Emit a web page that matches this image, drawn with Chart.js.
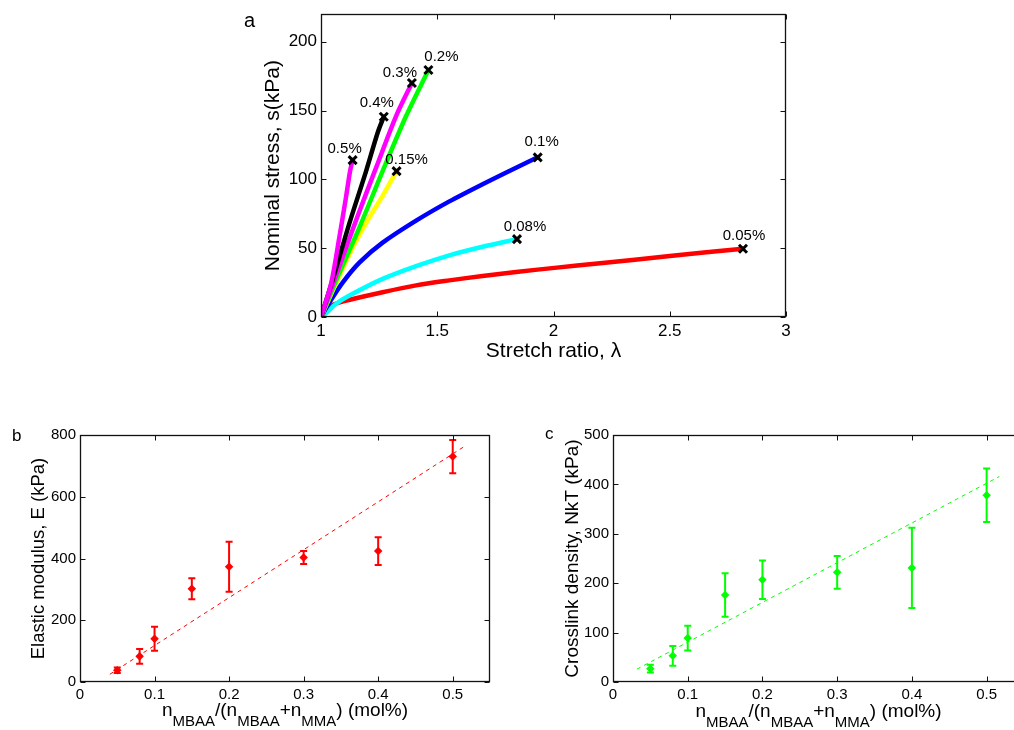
<!DOCTYPE html>
<html>
<head>
<meta charset="utf-8">
<script src="https://cdn.jsdelivr.net/npm/chart.js@4/dist/chart.umd.min.js"></script>
<style>
  html, body { margin: 0; padding: 0; background: #fff; overflow: hidden; width: 1014px; height: 730px; }
  canvas { position: absolute; }
</style>
</head>
<body>
<canvas id="chartA" width="560" height="370" style="left:240px;top:0px"></canvas>
<canvas id="chartB" width="500" height="310" style="left:0px;top:420px"></canvas>
<canvas id="chartC" width="530" height="310" style="left:510px;top:420px"></canvas>
<script>
// ---- panel a: stress-stretch curves, one pair of arrays per crosslinker content ----
const curveNames = ['0.5%', '0.4%', '0.3%', '0.2%', '0.15%', '0.1%', '0.08%', '0.05%'];
const lam05  = [1, 1.043, 1.079, 1.1075, 1.125, 1.136];
const s05    = [0, 24, 58, 87, 106, 114];
const lam04  = [1, 1.05, 1.122, 1.194, 1.244, 1.27];
const s04    = [0, 27, 68, 106, 134, 145.5];
const lam03  = [1, 1.0645, 1.15, 1.237, 1.323, 1.391];
const s03    = [0, 30, 70, 108.5, 146, 170];
const lam02  = [1, 1.079, 1.165, 1.265, 1.366, 1.462];
const s02    = [0, 32, 65, 106, 146, 179.5];
const lam015 = [1, 1.05, 1.129, 1.2, 1.265, 1.325];
const s015   = [0, 19, 48, 70, 88, 106];
const lam01  = [1, 1.036, 1.093, 1.165, 1.265, 1.409, 1.552, 1.695, 1.839, 1.932];
const s01    = [0, 10.5, 25, 39.5, 54, 70, 84, 96.5, 108.5, 116];
const lam008 = [1, 1.03, 1.065, 1.122, 1.265, 1.409, 1.552, 1.695, 1.843];
const s008   = [0, 4, 9.6, 15.6, 27.7, 37, 44.8, 51, 56.6];
const lam005 = [1, 1.03, 1.1, 1.265, 1.409, 1.552, 1.695, 1.839, 2.004, 2.2, 2.5, 2.815];
const s005   = [0, 7, 11.5, 18, 23, 26.6, 29.8, 32.7, 35.7, 39, 44.3, 49.6];
const stretchTicks = [1, 1.5, 2, 2.5, 3];
const stressTicks = [0, 50, 100, 150, 200];

// ---- panels b and c ----
const molFrac = [0.05, 0.08, 0.1, 0.15, 0.2, 0.3, 0.4, 0.5];
const modulusE = [38, 83, 140, 302, 373, 403, 424, 730];
const modulusErr = [9, 24, 39, 34, 81, 21, 45, 54];
const fitEx = [0.04, 0.515];
const fitEy = [25, 762];
const densityN = [27, 53, 89, 176, 207, 222, 231, 378];
const densityErr = [8, 20, 25, 44, 39, 33, 81, 54];
const fitNx = [0.032, 0.517];
const fitNy = [26, 416];
const fracTicks = [0, 0.1, 0.2, 0.3, 0.4, 0.5];
const modulusTicks = [0, 200, 400, 600, 800];
const densityTicks = [0, 100, 200, 300, 400, 500];

const family = "'Liberation Sans', Arial, Helvetica, sans-serif";
Chart.defaults.font.family = family;
Chart.defaults.color = '#000';
Chart.defaults.animation = false;
Chart.defaults.plugins.legend.display = false;
Chart.defaults.plugins.tooltip.enabled = false;

function pts(xs, ys) {
  return xs.map((v, i) => ({ x: v, y: ys[i] }));
}

function axis(tickVals, min, max, fontSize, fixed, isX) {
  return {
    type: 'linear', min: min, max: max,
    grid: { display: false, drawTicks: false },
    border: { display: false },
    ticks: {
      font: { size: fontSize }, color: '#000', padding: 4,
      autoSkip: false, maxRotation: 0,
      callback: v => String(+v.toFixed(2))
    },
    afterBuildTicks: s => { s.ticks = tickVals.map(v => ({ value: v })); },
    afterFit: s => { if (isX) s.height = fixed; else s.width = fixed; }
  };
}

// box, inward ticks, panel letter and axis titles (matlab style)
const frame = {
  id: 'frame',
  afterDraw(chart, args, o) {
    const { ctx, chartArea: a, scales } = chart;
    const L = Math.round(a.left) + 0.5, R = Math.round(a.right) - 0.5;
    const T = Math.round(a.top) + 0.5, B = Math.round(a.bottom) - 0.5;
    ctx.save();
    ctx.strokeStyle = '#111';
    ctx.lineWidth = 1;
    ctx.beginPath();
    scales.x.ticks.forEach(t => {
      const px = Math.round(scales.x.getPixelForValue(t.value)) + 0.5;
      ctx.moveTo(px, B); ctx.lineTo(px, B - 5);
      ctx.moveTo(px, T); ctx.lineTo(px, T + 5);
    });
    scales.y.ticks.forEach(t => {
      const py = Math.round(scales.y.getPixelForValue(t.value)) + 0.5;
      ctx.moveTo(L, py); ctx.lineTo(L + 5, py);
      ctx.moveTo(R, py); ctx.lineTo(R - 5, py);
    });
    ctx.stroke();
    ctx.lineWidth = 1.3;
    ctx.strokeRect(L, T, R - L, B - T);

    ctx.fillStyle = '#000';
    ctx.font = o.letterSize + 'px ' + family;
    ctx.textAlign = 'left';
    ctx.textBaseline = 'alphabetic';
    ctx.fillText(o.letter, o.letterPos[0], o.letterPos[1]);

    ctx.save();
    ctx.translate(a.left - o.yGap, (a.top + a.bottom) / 2);
    ctx.rotate(-Math.PI / 2);
    ctx.font = o.ySize + 'px ' + family;
    ctx.textAlign = 'center';
    ctx.textBaseline = 'middle';
    ctx.fillText(o.yTitle, 0, 0);
    ctx.restore();

    const cx = (a.left + a.right) / 2;
    if (typeof o.xTitle === 'string') {
      ctx.font = o.xSize + 'px ' + family;
      ctx.textAlign = 'center';
      ctx.textBaseline = 'middle';
      ctx.fillText(o.xTitle, cx, a.bottom + o.xGap);
    } else {
      ctx.textAlign = 'left';
      ctx.textBaseline = 'alphabetic';
      let w = 0;
      o.xTitle.forEach(p => {
        ctx.font = (p[1] ? o.subSize : o.xSize) + 'px ' + family;
        w += ctx.measureText(p[0]).width;
      });
      let x = cx - w / 2;
      o.xTitle.forEach(p => {
        ctx.font = (p[1] ? o.subSize : o.xSize) + 'px ' + family;
        ctx.fillText(p[0], x, a.bottom + o.xGap + (p[1] ? 10 : 0));
        x += ctx.measureText(p[0]).width;
      });
    }
    ctx.restore();
  }
};

// black x at the break point of every curve, with its label
const endMarks = {
  id: 'endMarks',
  afterDatasetsDraw(chart, args, o) {
    const ctx = chart.ctx;
    ctx.save();
    chart.data.datasets.forEach((ds, i) => {
      const els = chart.getDatasetMeta(i).data;
      const p = els[els.length - 1];
      ctx.strokeStyle = '#000';
      ctx.lineWidth = 3;
      ctx.beginPath();
      ctx.moveTo(p.x - 4, p.y - 4); ctx.lineTo(p.x + 4, p.y + 4);
      ctx.moveTo(p.x + 4, p.y - 4); ctx.lineTo(p.x - 4, p.y + 4);
      ctx.stroke();
      ctx.fillStyle = '#000';
      ctx.font = '15px ' + family;
      ctx.textAlign = 'center';
      ctx.textBaseline = 'middle';
      const off = o.offsets[i];
      ctx.fillText(ds.label, p.x + off[0], p.y + off[1]);
    });
    ctx.restore();
  }
};

const errorBars = {
  id: 'errorBars',
  afterDatasetsDraw(chart) {
    const { ctx, scales } = chart;
    chart.data.datasets.forEach(ds => {
      if (!ds.errors) return;
      ctx.save();
      ctx.strokeStyle = ds.borderColor;
      ctx.lineWidth = 2;
      ctx.beginPath();
      ds.data.forEach((d, j) => {
        const px = scales.x.getPixelForValue(d.x);
        const top = scales.y.getPixelForValue(d.y + ds.errors[j]);
        const bot = scales.y.getPixelForValue(d.y - ds.errors[j]);
        ctx.moveTo(px, top); ctx.lineTo(px, bot);
        ctx.moveTo(px - 3.5, top); ctx.lineTo(px + 3.5, top);
        ctx.moveTo(px - 3.5, bot); ctx.lineTo(px + 3.5, bot);
      });
      ctx.stroke();
      ctx.restore();
    });
  }
};

// ---------- chart a ----------
const curveLam = [lam05, lam04, lam03, lam02, lam015, lam01, lam008, lam005];
const curveS = [s05, s04, s03, s02, s015, s01, s008, s005];
const curveColors = ['#ff00ff', '#000000', '#ff00ff', '#00ff00', '#ffff00', '#0000ff', '#00ffff', '#ff0000'];
const labelOffsets = [[-8, -11], [-7, -14], [-12, -10], [13, -13], [10, -11], [4, -15], [8, -12], [1, -13]];

new Chart(document.getElementById('chartA'), {
  type: 'line',
  data: {
    datasets: curveNames.map((name, i) => ({
      label: name,
      data: pts(curveLam[i], curveS[i]),
      borderColor: curveColors[i],
      borderWidth: 4.5,
      pointRadius: 0,
      tension: 0.3,
      borderCapStyle: 'round',
      borderJoinStyle: 'round',
      fill: false
    }))
  },
  options: {
    responsive: false,
    devicePixelRatio: 1,
    events: [],
    layout: { padding: { top: 13, right: 14, left: 0, bottom: 0 } },
    scales: {
      x: axis(stretchTicks, 1, 3, 17, 53, true),
      y: axis(stressTicks, 0, 220, 17, 81, false)
    },
    plugins: {
      frame: {
        letter: 'a', letterSize: 20, letterPos: [4, 27],
        yTitle: 'Nominal stress, s(kPa)', ySize: 21, yGap: 48,
        xTitle: 'Stretch ratio, \u03bb', xSize: 21, xGap: 34
      },
      endMarks: { offsets: labelOffsets }
    }
  },
  plugins: [frame, endMarks]
});

// ---------- charts b and c ----------
const xParts = [['n', 0], ['MBAA', 1], ['/(n', 0], ['MBAA', 1], ['+n', 0], ['MMA', 1], [') (mol%)', 0]];

function modulusChart(id, ys, errs, fx, fy, color, yTicks, yMax, yw, rightPad, frameOpts) {
  return new Chart(document.getElementById(id), {
    type: 'scatter',
    data: {
      datasets: [
        {
          data: pts(molFrac, ys), errors: errs,
          borderColor: color, backgroundColor: color,
          pointStyle: 'rectRot', pointRadius: 3.2, borderWidth: 1.5
        },
        {
          data: pts(fx, fy), showLine: true, pointRadius: 0,
          borderColor: color, borderWidth: 1, borderDash: [4, 4]
        }
      ]
    },
    options: {
      responsive: false,
      devicePixelRatio: 1,
      events: [],
      layout: { padding: { top: 15, right: rightPad, left: 0, bottom: 0 } },
      scales: {
        x: axis(fracTicks, 0, 0.55, 15, 48, true),
        y: axis(yTicks, 0, yMax, 15, yw, false)
      },
      plugins: { frame: frameOpts }
    },
    plugins: [frame, errorBars]
  });
}

modulusChart('chartB', modulusE, modulusErr, fitEx, fitEy, '#ff0000', modulusTicks, 800, 80, 10, {
  letter: 'b', letterSize: 17, letterPos: [12, 21],
  yTitle: 'Elastic modulus, E (kPa)', ySize: 18.5, yGap: 41,
  xTitle: xParts, xSize: 19, subSize: 15, xGap: 34
});

modulusChart('chartC', densityN, densityErr, fitNx, fitNy, '#00ff00', densityTicks, 500, 103, 16, {
  letter: 'c', letterSize: 17, letterPos: [35, 19],
  yTitle: 'Crosslink density, NkT (kPa)', ySize: 19, yGap: 40,
  xTitle: xParts, xSize: 19, subSize: 15, xGap: 35
});
</script>
</body>
</html>
